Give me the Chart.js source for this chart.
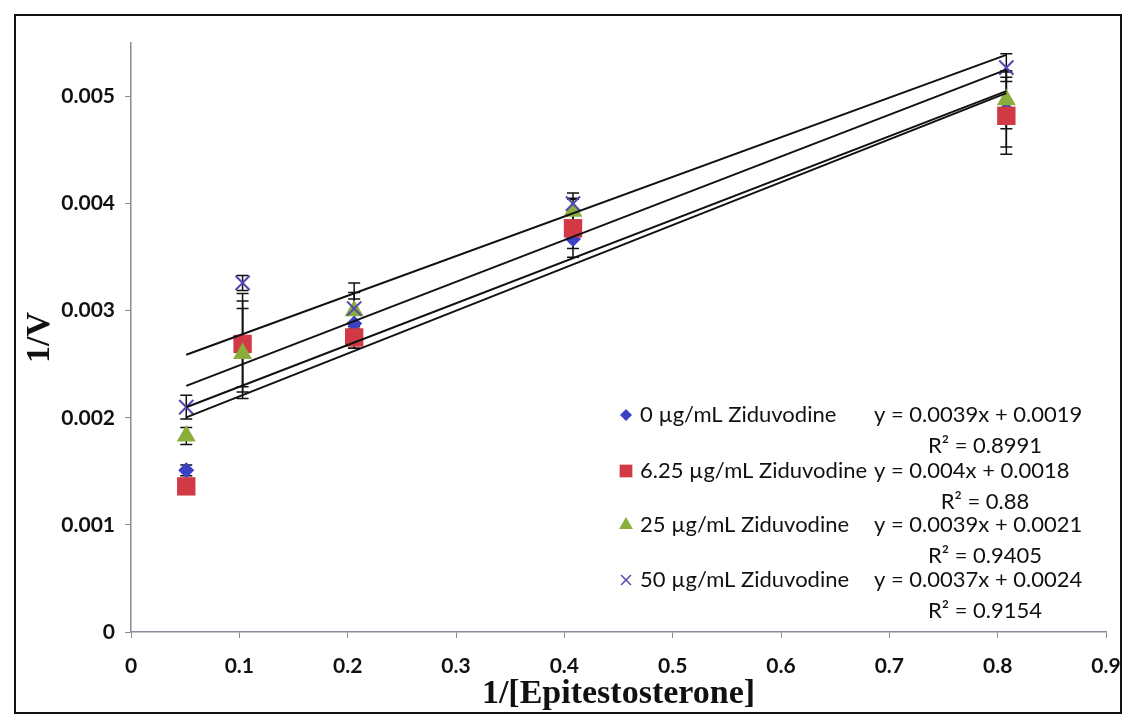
<!DOCTYPE html>
<html>
<head>
<meta charset="utf-8">
<script src="https://cdn.jsdelivr.net/npm/chart.js@4.4.1/dist/chart.umd.min.js"></script>
<style>
  html, body { margin: 0; padding: 0; background: #fff; }
  #wrap { width: 1127px; height: 727px; }
</style>
</head>
<body>
<div id="wrap"><canvas id="lineweaver" width="1127" height="727"></canvas></div>
<script>
// 1/[S] values shared by every series
const invSubstrate = [0.051, 0.103, 0.206, 0.408, 0.808];

const seriesNames = ['0 µg/mL Ziduvodine', '6.25 µg/mL Ziduvodine', '25 µg/mL Ziduvodine', '50 µg/mL Ziduvodine'];

// 1/V means and their error bars
const invV_0 = [0.00151, 0.00270, 0.00288, 0.00367, 0.00488];
const err_0 = [0.00005, 0.00046, 0.00023, 0.00009, 0.00035];
const invV_625 = [0.00136, 0.00269, 0.00275, 0.00377, 0.00482];
const err_625 = [0.00005, 0.00040, 0.00010, 0.00027, 0.00036];
const invV_25 = [0.00183, 0.00260, 0.00300, 0.00393, 0.00497];
const err_25 = [0.00008, 0.00042, 0.00017, 0.00012, 0.00027];
const invV_50 = [0.00210, 0.00326, 0.00302, 0.00400, 0.00527];
const err_50 = [0.00011, 0.00007, 0.00024, 0.00010, 0.00013];

// linear trendlines as printed next to the legend
const slopes = [0.0039, 0.004, 0.0039, 0.0037];
const intercepts = [0.0019, 0.0018, 0.0021, 0.0024];
const rSquared = ['0.8991', '0.88', '0.9405', '0.9154'];

const yTicks = [0, 0.001, 0.002, 0.003, 0.004, 0.005];

const seriesValues = [invV_0, invV_625, invV_25, invV_50];
const seriesErrors = [err_0, err_625, err_25, err_50];
const markers = [
  { pointStyle: 'rectRot', radius: 8, color: '#3b40c4', legendRadius: 6 },
  { pointStyle: 'rect', radius: 13, color: '#d13a45', legendRadius: 9 },
  { pointStyle: 'triangle', radius: 11, color: '#8bad3b', legendRadius: 8 },
  { pointStyle: 'crossRot', radius: 10, color: '#5548b0', legendRadius: 7 }
];

const datasets = [];
seriesValues.forEach((vals, i) => {
  const m = markers[i];
  datasets.push({
    type: 'scatter',
    label: seriesNames[i],
    data: invSubstrate.map((x, j) => ({ x: x, y: vals[j] })),
    errors: seriesErrors[i],
    pointStyle: m.pointStyle,
    pointRadius: m.radius,
    backgroundColor: m.color,
    borderColor: m.color,
    borderWidth: m.pointStyle === 'crossRot' ? 2 : 0,
    order: 4 - i
  });
});
slopes.forEach((k, i) => {
  const x0 = invSubstrate[0];
  const x1 = invSubstrate[invSubstrate.length - 1];
  datasets.push({
    type: 'line',
    label: 'trend ' + seriesNames[i],
    data: [{ x: x0, y: k * x0 + intercepts[i] }, { x: x1, y: k * x1 + intercepts[i] }],
    borderColor: '#111',
    borderWidth: 2,
    pointRadius: 0,
    fill: false,
    order: 0
  });
});

const framePlugin = {
  id: 'frame',
  beforeDraw(chart) {
    const ctx = chart.ctx;
    ctx.save();
    ctx.fillStyle = '#fff';
    ctx.fillRect(0, 0, chart.width, chart.height);
    ctx.strokeStyle = '#111';
    ctx.lineWidth = 2;
    ctx.strokeRect(15, 15, 1106, 698);
    ctx.restore();
  }
};

const errorBarPlugin = {
  id: 'errorBars',
  beforeDatasetsDraw(chart) {
    const ctx = chart.ctx;
    const xs = chart.scales.x, ys = chart.scales.y;
    ctx.save();
    ctx.strokeStyle = '#111';
    ctx.lineWidth = 1.5;
    chart.data.datasets.forEach(ds => {
      if (!ds.errors) return;
      ds.data.forEach((p, j) => {
        const px = xs.getPixelForValue(p.x);
        const top = ys.getPixelForValue(p.y + ds.errors[j]);
        const bot = ys.getPixelForValue(p.y - ds.errors[j]);
        ctx.beginPath();
        ctx.moveTo(px, top); ctx.lineTo(px, bot);
        ctx.moveTo(px - 6, top); ctx.lineTo(px + 6, top);
        ctx.moveTo(px - 6, bot); ctx.lineTo(px + 6, bot);
        ctx.stroke();
      });
    });
    ctx.restore();
  }
};

const legendPlugin = {
  id: 'trendLegend',
  afterDraw(chart) {
    const ctx = chart.ctx;
    const rowY = [415, 471, 525, 580];
    ctx.save();
    ctx.font = '22px Lato';
    ctx.textBaseline = 'middle';
    rowY.forEach((y, i) => {
      const m = markers[i];
      ctx.fillStyle = m.color;
      ctx.strokeStyle = m.color;
      ctx.lineWidth = 1.5;
      Chart.helpers.drawPoint(ctx, {
        pointStyle: m.pointStyle,
        radius: m.legendRadius,
        rotation: 0,
        borderWidth: m.pointStyle === 'crossRot' ? 1.5 : 0
      }, 626, y);
      ctx.fillStyle = '#111';
      ctx.textAlign = 'left';
      ctx.fillText(seriesNames[i], 640, y);
      ctx.fillText('y = ' + slopes[i] + 'x + ' + intercepts[i], 874, y);
      ctx.textAlign = 'center';
      ctx.fillText('R² = ' + rSquared[i], 985, y + 31);
    });
    ctx.restore();
  }
};

const tickFont = { family: 'Lato', size: 21, weight: 'bold' };
const titleFont = { family: 'Liberation Serif', size: 34, weight: 'bold' };

new Chart(document.getElementById('lineweaver'), {
  type: 'scatter',
  data: { datasets: datasets },
  plugins: [framePlugin, errorBarPlugin, legendPlugin],
  options: {
    responsive: false,
    animation: false,
    layout: { padding: { top: 43, right: 21, left: 0, bottom: 12 } },
    plugins: { legend: { display: false }, tooltip: { enabled: false } },
    scales: {
      x: {
        type: 'linear',
        min: 0,
        max: 0.9,
        ticks: {
          stepSize: 0.1,
          color: '#111',
          font: tickFont,
          padding: 16,
          callback: v => v === 0 ? '0' : +v.toFixed(1)
        },
        grid: { drawOnChartArea: false, tickLength: 6, color: '#8a8a9a' },
        border: { color: '#8a8a9a', width: 1.5 },
        title: {
          display: true,
          text: '1/[Epitestosterone]',
          color: '#111',
          font: titleFont,
          padding: { top: 0, bottom: 0 }
        },
        afterFit: s => {
          s.height = 83;
          s.paddingLeft = 0;
          s.paddingRight = 0;
        }
      },
      y: {
        type: 'linear',
        min: 0,
        max: 0.0055,
        afterBuildTicks: s => { s.ticks = yTicks.map(v => ({ value: v })); },
        ticks: {
          color: '#111',
          font: tickFont,
          padding: 10,
          callback: v => v === 0 ? '0' : v.toFixed(3)
        },
        grid: { drawOnChartArea: false, tickLength: 6, color: '#8a8a9a' },
        border: { color: '#8a8a9a', width: 1.5 },
        title: {
          display: true,
          text: '1/V',
          color: '#111',
          font: titleFont,
          padding: { top: 20, bottom: 0 }
        },
        afterFit: s => { s.width = 131; }
      }
    }
  }
});
</script>
</body>
</html>
